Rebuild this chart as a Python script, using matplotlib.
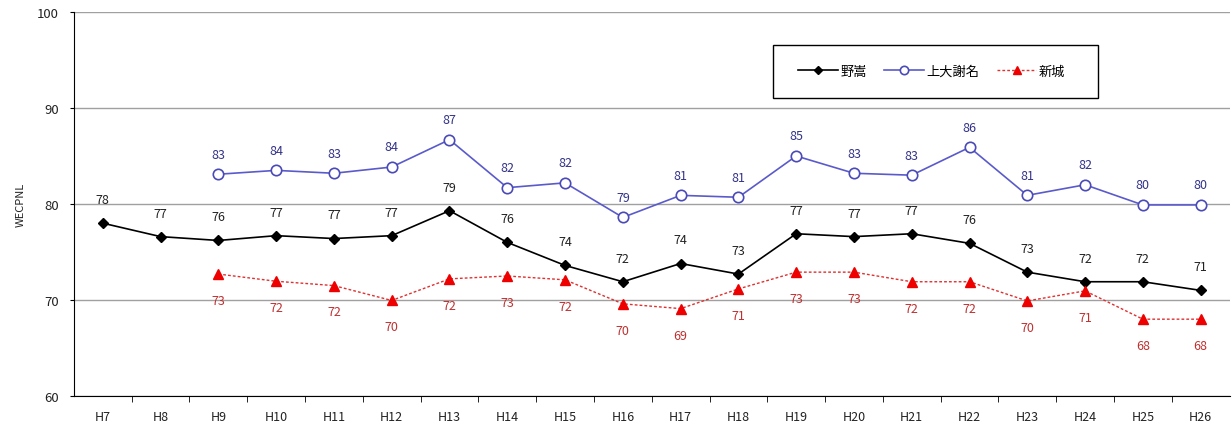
import matplotlib
matplotlib.use("Agg")
import matplotlib.pyplot as plt
from matplotlib.ticker import FixedLocator
from matplotlib.patches import Rectangle

plt.rcParams['font.family'] = ['Noto Sans CJK JP', 'DejaVu Sans']

years = ["H7", "H8", "H9", "H10", "H11", "H12", "H13", "H14", "H15", "H16",
         "H17", "H18", "H19", "H20", "H21", "H22", "H23", "H24", "H25", "H26"]

noda_vals = [78.0, 76.6, 76.2, 76.7, 76.4, 76.7, 79.3, 76.0, 73.6, 71.9,
             73.8, 72.7, 76.9, 76.6, 76.9, 75.9, 72.9, 71.9, 71.9, 71.0]
noda_labels = [78, 77, 76, 77, 77, 77, 79, 76, 74, 72, 74, 73, 77, 77, 77, 76, 73, 72, 72, 71]

kami_years = years[2:]
kami_vals = [83.1, 83.5, 83.2, 83.85, 86.7, 81.7, 82.2, 78.6, 80.9, 80.7,
             85.0, 83.2, 83.0, 85.9, 80.9, 82.0, 79.9, 79.9]
kami_labels = [83, 84, 83, 84, 87, 82, 82, 79, 81, 81, 85, 83, 83, 86, 81, 82, 80, 80]

shin_years = years[2:]
shin_vals = [72.7, 71.95, 71.5, 69.95, 72.2, 72.5, 72.1, 69.6, 69.1, 71.15,
             72.9, 72.9, 71.9, 71.9, 69.9, 70.95, 68.0, 68.0]
shin_labels = [73, 72, 72, 70, 72, 73, 72, 70, 69, 71, 73, 73, 72, 72, 70, 71, 68, 68]

series_names = ["野嵩", "上大謝名", "新城"]

fig = plt.figure(figsize=(12.32, 4.27), dpi=100)
ax = fig.add_axes([0.060, 0.0703, 0.938, 0.8993])

xi = {y: i for i, y in enumerate(years)}
x_noda = [xi[y] for y in years]
x_kami = [xi[y] for y in kami_years]
x_shin = [xi[y] for y in shin_years]

ax.plot(x_noda, noda_vals, color='black', lw=1.2, marker='D', ms=5.5,
        mfc='black', mec='black', label=series_names[0], zorder=4)
ax.plot(x_kami, kami_vals, color='#5a5acc', lw=1.2, marker='o', ms=7.5,
        mfc='white', mec='#4a4ab8', mew=1.2, label=series_names[1], zorder=4)
ax.plot(x_shin, shin_vals, color='#e03030', lw=1.0, ls=(0, (2, 1.5)), marker='^', ms=7.5,
        mfc='#ee0000', mec='#ee0000', label=series_names[2], zorder=4)

for x, v, l in zip(x_noda, noda_vals, noda_labels):
    ax.annotate(str(l), (x, v), xytext=(0, 17), textcoords='offset points',
                ha='center', va='center', fontsize=9, color='#222222')
for x, v, l in zip(x_kami, kami_vals, kami_labels):
    ax.annotate(str(l), (x, v), xytext=(0, 14.5), textcoords='offset points',
                ha='center', va='center', fontsize=9, color='#33338a')
for x, v, l in zip(x_shin, shin_vals, shin_labels):
    ax.annotate(str(l), (x, v), xytext=(0, -19), textcoords='offset points',
                ha='center', va='center', fontsize=9, color='#c03030')

ax.set_xlim(-0.5, len(years) - 0.5)
ax.set_ylim(60, 100)
ax.set_yticks([60, 70, 80, 90, 100])
ax.set_xticks(range(len(years)))
ax.set_xticklabels(years)
ax.xaxis.set_minor_locator(FixedLocator([i + 0.5 for i in range(len(years) - 1)]))
ax.tick_params(axis='x', which='major', length=0, pad=10, labelsize=9, labelcolor='#222222')
ax.tick_params(axis='x', which='minor', length=4, color='black', direction='out')
ax.tick_params(axis='y', which='major', length=3, pad=8, labelsize=9.5, color='black',
               labelcolor='#222222')

ax.yaxis.grid(True, color='#a0a0a0', lw=1.0)
ax.set_axisbelow(True)
for s in ['top', 'right']:
    ax.spines[s].set_visible(False)
ax.spines['left'].set_color('black')
ax.spines['bottom'].set_color('black')

ax.set_ylabel("WECPNL", fontsize=8, color='#222222', labelpad=8)

# legend box
bx0, by0, bw, bh = 0.605, 0.776, 0.281, 0.138
ax.add_patch(Rectangle((bx0, by0), bw, bh, transform=ax.transAxes, facecolor='white',
                       edgecolor='black', lw=1.0, zorder=5))
leg = ax.legend(loc='center', bbox_to_anchor=(bx0 + bw / 2 - 0.003, by0 + bh / 2),
                ncol=3, frameon=False, fontsize=9.5, handlelength=3.0,
                handletextpad=0.2, columnspacing=1.3, markerscale=0.8,
                borderaxespad=0)
leg.set_zorder(6)

fig.savefig("out.png", dpi=100, facecolor='white')
